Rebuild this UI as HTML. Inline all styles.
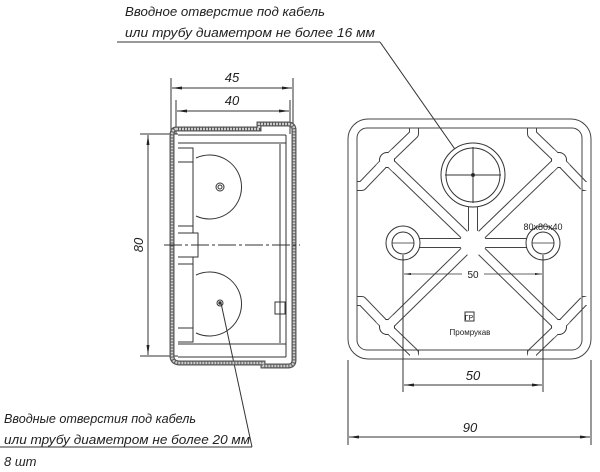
<!DOCTYPE html>
<html><head><meta charset="utf-8"><style>
html,body{margin:0;padding:0;background:#fff;}
svg{display:block;}
text{font-family:"Liberation Sans","DejaVu Sans",sans-serif;font-style:italic;fill:#222;}
</style></head><body>
<svg width="600" height="472" viewBox="0 0 600 472" xmlns="http://www.w3.org/2000/svg">
<defs>
<marker id="a" markerWidth="10" markerHeight="6" refX="10" refY="3" orient="auto-start-reverse"><path d="M0,1.5 L10,3 L0,4.5z" fill="#222"/></marker>
</defs>
<g stroke="#333" fill="none" stroke-width="1">
<line x1="117" y1="42" x2="380" y2="42"/>
<line x1="380" y1="42" x2="473" y2="175"/>
<line x1="0" y1="447" x2="252" y2="447"/>
<line x1="252" y1="447" x2="221" y2="303"/>

<!-- LEFT VIEW -->
<line x1="171" y1="78" x2="171" y2="130"/>
<line x1="293" y1="78" x2="293" y2="125"/>
<line x1="176" y1="100" x2="176" y2="134"/>
<line x1="290" y1="100" x2="290" y2="134"/>
<line x1="172" y1="88" x2="292" y2="88" marker-start="url(#a)" marker-end="url(#a)"/>
<line x1="177" y1="111" x2="289" y2="111" marker-start="url(#a)" marker-end="url(#a)"/>
<line x1="140" y1="134" x2="178" y2="134"/>
<line x1="140" y1="356" x2="178" y2="356"/>
<line x1="148" y1="135" x2="148" y2="355" marker-start="url(#a)" marker-end="url(#a)"/>
<path d="M176,129 L259,129 L259,124 L288,124 Q294,124 294,130 L294,360 Q294,366 288,366 L263,366 L263,363 L180,363 Q172,363 172,356 L172,136 Q172,129 176,129Z" stroke-width="5" stroke="#555"/>
<path d="M176,129 L259,129 L259,124 L288,124 Q294,124 294,130 L294,360 Q294,366 288,366 L263,366 L263,363 L180,363 Q172,363 172,356 L172,136 Q172,129 176,129Z" stroke-width="2.5" stroke="#ccc" stroke-dasharray="2 1"/>
<line x1="178" y1="135" x2="286" y2="135"/>
<line x1="178" y1="143" x2="286" y2="143"/>
<line x1="178" y1="344" x2="286" y2="344"/>
<line x1="178" y1="357" x2="286" y2="357"/>
<line x1="286" y1="135" x2="286" y2="357"/>
<line x1="280" y1="144" x2="280" y2="343"/>
<rect x="275" y="302" width="10" height="12"/>
<path d="M178,148 L193,148 L193,233 L178,233"/>
<path d="M178,257 L193,257 L193,342 L178,342"/>
<line x1="178" y1="162" x2="193" y2="162"/>
<line x1="178" y1="226" x2="193" y2="226"/>
<line x1="178" y1="264" x2="193" y2="264"/>
<line x1="178" y1="328" x2="193" y2="328"/>
<path d="M193,233 L198,233 L198,257 L193,257"/>
<path d="M196,158 A32,32 0 1 1 196,216" />
<path d="M196,275 A32,32 0 1 1 196,333" />
<circle cx="220" cy="187" r="4"/><circle cx="220" cy="187" r="2"/>
<circle cx="220" cy="303" r="3"/><circle cx="220" cy="303" r="1.2" fill="#333"/>
<line x1="164" y1="245" x2="300" y2="245" stroke-dasharray="18 3 3 3"/>
</g>
<!-- ribs -->
<g fill="none" stroke-linejoin="round" stroke-linecap="butt">
<g stroke="#444" stroke-width="10">
<path d="M387,160 L414,134 L414,128 M387,160 L362,186 L357,186 M387,160 L473,243"/>
<path d="M559,160 L532,134 L532,128 M559,160 L584,186 L582,186 M559,160 L473,243"/>
<path d="M387,327 L414,353 L414,350 M387,327 L362,301 L357,301 M387,327 L473,243"/>
<path d="M559,327 L532,353 L532,350 M559,327 L584,301 L582,301 M559,327 L473,243"/>
<path d="M403,243 L543,243 M473,175 L473,243"/>
</g>
<g stroke="#fff" stroke-width="8">
<path d="M387,160 L414,134 L414,126 M387,160 L362,186 L355,186 M387,160 L473,243"/>
<path d="M559,160 L532,134 L532,126 M559,160 L584,186 L591,186 M559,160 L473,243"/>
<path d="M387,327 L414,353 L414,361 M387,327 L362,301 L355,301 M387,327 L473,243"/>
<path d="M559,327 L532,353 L532,361 M559,327 L584,301 L591,301 M559,327 L473,243"/>
<path d="M403,243 L543,243 M473,175 L473,243"/>
</g>
</g>
<g stroke="#333" fill="#fff" stroke-width="1">
<circle cx="387" cy="160" r="7.5"/><circle cx="559" cy="160" r="7.5"/>
<circle cx="387" cy="327" r="7.5"/><circle cx="559" cy="327" r="7.5"/>
</g>
<g stroke="#fff" stroke-width="8" fill="none">
<path d="M387,160 L395,152 M387,160 L379,168 M387,160 L396,169"/>
<path d="M559,160 L551,152 M559,160 L567,168 M559,160 L550,169"/>
<path d="M387,327 L395,335 M387,327 L379,319 M387,327 L396,318"/>
<path d="M559,327 L551,335 M559,327 L567,319 M559,327 L550,318"/>
</g>
<circle cx="473" cy="243" r="13" fill="#fff"/>
<g stroke="#333" fill="none" stroke-width="1">
<rect x="348" y="119" width="243" height="240" rx="20" stroke="#444"/>
<rect x="357" y="128" width="225" height="222" rx="10" stroke="#444"/>
<circle cx="473" cy="175" r="32" fill="#fff"/>
<circle cx="473" cy="175" r="27"/>
<line x1="445" y1="175" x2="501" y2="175"/><line x1="473" y1="147" x2="473" y2="203"/>
<circle cx="473" cy="175" r="1.5" fill="#222"/>
<circle cx="403" cy="243" r="17" fill="#fff"/><circle cx="403" cy="243" r="11"/>
<circle cx="543" cy="243" r="17" fill="#fff"/><circle cx="543" cy="243" r="11"/>
<line x1="392" y1="243" x2="414" y2="243" stroke-width="0.7"/>
<line x1="532" y1="243" x2="554" y2="243" stroke-width="0.7"/>
<line x1="403" y1="255" x2="403" y2="392"/>
<line x1="543" y1="255" x2="543" y2="392"/>
<line x1="404" y1="274" x2="542" y2="274" stroke-width="0.7" marker-start="url(#a)" marker-end="url(#a)"/>
<line x1="404" y1="385" x2="542" y2="385" marker-start="url(#a)" marker-end="url(#a)"/>
<line x1="348" y1="360" x2="348" y2="445"/>
<line x1="591" y1="360" x2="591" y2="445"/>
<line x1="349" y1="437" x2="590" y2="437" marker-start="url(#a)" marker-end="url(#a)"/>
<rect x="465" y="312" width="9" height="9"/>
</g>
<rect x="462" y="268" width="22" height="12" fill="#fff"/>
<text x="473" y="278" font-size="10" text-anchor="middle" style="font-style:normal">50</text>
<text x="543" y="230" font-size="9" text-anchor="middle" style="font-style:normal">80x80x40</text>
<text x="469" y="320" font-size="7" text-anchor="middle" style="font-style:normal">ГР</text>
<text x="470" y="335" font-size="8" text-anchor="middle" style="font-style:normal">Промрукав</text>
<text x="232" y="82" font-size="13" text-anchor="middle">45</text>
<text x="232" y="105" font-size="13" text-anchor="middle">40</text>
<text x="143" y="245" font-size="13" text-anchor="middle" transform="rotate(-90 143 245)">80</text>
<text x="473" y="380" font-size="13" text-anchor="middle">50</text>
<text x="470" y="432" font-size="13" text-anchor="middle">90</text>
<text x="125" y="16" font-size="13" textLength="200" lengthAdjust="spacingAndGlyphs">Вводное отверстие под кабель</text>
<text x="125" y="37" font-size="13" textLength="250" lengthAdjust="spacingAndGlyphs">или трубу диаметром не более 16 мм</text>
<text x="4" y="423" font-size="13" textLength="192" lengthAdjust="spacingAndGlyphs">Вводные отверстия под кабель</text>
<text x="4" y="444" font-size="13" textLength="246" lengthAdjust="spacingAndGlyphs">или трубу диаметром не более 20 мм</text>
<text x="4" y="466" font-size="13">8 шт</text>
</svg>
</body></html>
